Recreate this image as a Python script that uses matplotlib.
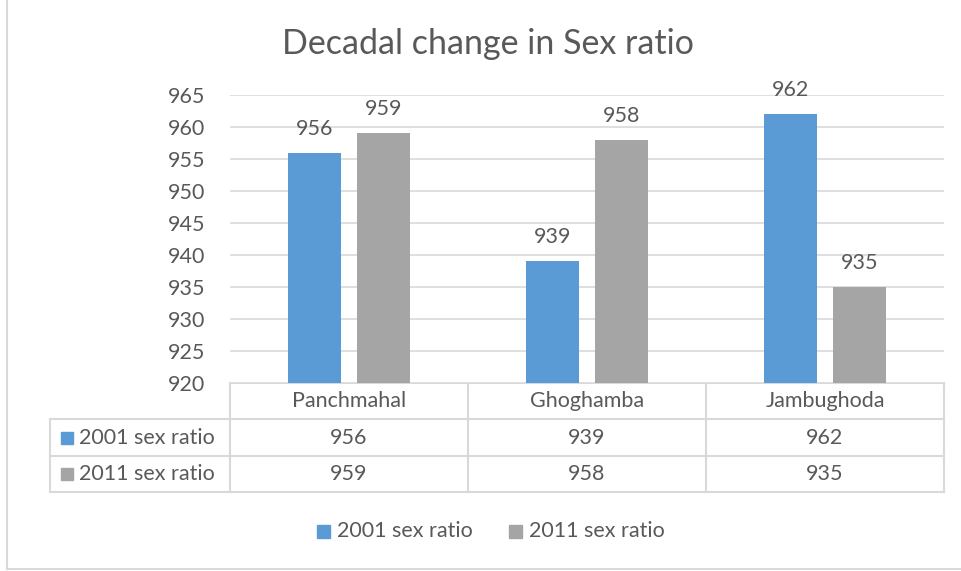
import numpy as np
import matplotlib.pyplot as plt
from matplotlib.patches import Rectangle

# 데이터
districts = ['Panchmahal', 'Ghoghamba', 'Jambughoda']
series_names = ['2001 sex ratio', '2011 sex ratio']
ratio_2001 = [956, 939, 962]
ratio_2011 = [959, 958, 935]
yticks = [920, 925, 930, 935, 940, 945, 950, 955, 960, 965]

blue = '#5B9BD5'
gray = '#A5A5A5'
txt = '#595959'
line = '#D9D9D9'
fs = 15.5

plt.rcParams['font.family'] = ['Lato', 'DejaVu Sans']

W, H = 962, 571
fig = plt.figure(figsize=(W / 100, H / 100), dpi=100)

def fx(px):
    return px / W

def fy(py):
    return 1 - py / H

# 바깥 테두리
fig.add_artist(plt.Line2D([fx(7), fx(7)], [fy(0), fy(569)], color=line, lw=1.5))
fig.add_artist(plt.Line2D([fx(7), fx(W)], [fy(569), fy(569)], color=line, lw=1.5))

# 메인 그래프
left, right, top, bottom = 230, 944, 95, 383
ax = fig.add_axes([fx(left), fy(bottom), fx(right - left), (bottom - top) / H])
x = np.arange(len(districts))
bw = 0.222
off = 0.145
ax.bar(x - off, np.array(ratio_2001) - 920, bw, bottom=920, color=blue)
ax.bar(x + off, np.array(ratio_2011) - 920, bw, bottom=920, color=gray)
for xi, v in zip(x - off, ratio_2001):
    ax.text(xi, v + 2.2, str(v), ha='center', va='bottom', fontsize=fs, color=txt, clip_on=False)
for xi, v in zip(x + off, ratio_2011):
    ax.text(xi, v + 2.2, str(v), ha='center', va='bottom', fontsize=fs, color=txt, clip_on=False)

ax.set_xlim(-0.5, 2.5)
ax.set_ylim(920, 965)
ax.set_yticks(yticks)
ax.set_yticklabels([str(t) for t in yticks], fontsize=fs, color=txt)
ax.tick_params(axis='y', length=0, pad=18)
ax.set_xticks([])
ax.grid(axis='y', color=line, lw=1.2)
ax.set_axisbelow(True)
for s in ax.spines.values():
    s.set_visible(False)

fig.text(fx(488), fy(44), 'Decadal change in Sex ratio', ha='center', va='center',
         fontsize=24.5, color=txt)

# 데이터 테이블 (픽셀 좌표)
tab = fig.add_axes([0, 0, 1, 1], zorder=-1)
tab.set_xlim(0, W)
tab.set_ylim(H, 0)
tab.axis('off')
col_x = [left + (right - left) / 3 * i for i in range(4)]
rows_y = [383, 419, 456, 492]
lk = dict(color=line, lw=1.5)
tab.plot([col_x[0], col_x[-1]], [rows_y[0], rows_y[0]], **lk)
for ry in rows_y[1:]:
    tab.plot([50, col_x[-1]], [ry, ry], **lk)
for cx in col_x:
    tab.plot([cx, cx], [rows_y[0], rows_y[-1]], **lk)
tab.plot([50, 50], [rows_y[1], rows_y[-1]], **lk)

for i, name in enumerate(districts):
    cx = (col_x[i] + col_x[i + 1]) / 2
    tab.text(cx, (rows_y[0] + rows_y[1]) / 2, name, ha='center', va='center', fontsize=fs, color=txt)
    tab.text(cx, (rows_y[1] + rows_y[2]) / 2, str(ratio_2001[i]), ha='center', va='center', fontsize=fs, color=txt)
    tab.text(cx, (rows_y[2] + rows_y[3]) / 2, str(ratio_2011[i]), ha='center', va='center', fontsize=fs, color=txt)

for j, (name, c) in enumerate(zip(series_names, [blue, gray])):
    cy = (rows_y[j + 1] + rows_y[j + 2]) / 2
    tab.add_patch(Rectangle((61, cy - 6), 12, 12, color=c))
    tab.text(79, cy, name, ha='left', va='center', fontsize=fs, color=txt)

# 범례
for (lx, name, c) in [(317, series_names[0], blue), (509, series_names[1], gray)]:
    tab.add_patch(Rectangle((lx, 525), 13, 13, color=c))
    tab.text(lx + 20, 531, name, ha='left', va='center', fontsize=fs, color=txt)

fig.savefig('out.png', dpi=100)
